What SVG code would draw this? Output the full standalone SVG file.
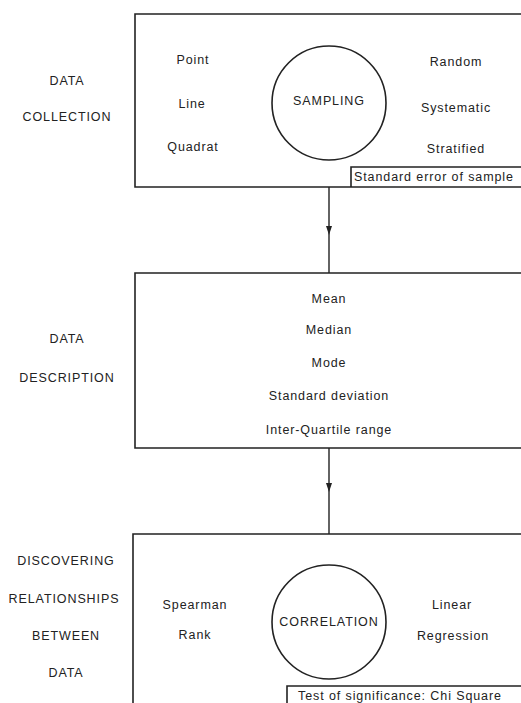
<svg xmlns="http://www.w3.org/2000/svg" width="521" height="703" viewBox="0 0 521 703">
<defs>
<style>
text{font-family:"Liberation Sans",Arial,sans-serif;font-size:12.5px;letter-spacing:0.9px;fill:#222;text-anchor:middle}
.box{fill:none;stroke:#222;stroke-width:1.6}
.ln{stroke:#222;stroke-width:1.4;fill:none}
.st{text-anchor:start}
</style>
<marker id="ah" viewBox="0 0 10 10" refX="10" refY="5" markerWidth="9" markerHeight="6" markerUnits="userSpaceOnUse" orient="auto" preserveAspectRatio="none">
<path d="M0,0 L10,5 L0,10 Z" fill="#222"/>
</marker>
</defs>
<rect width="521" height="703" fill="#fff"/>
<g id="connectors">
<path class="ln" d="M329,187 V235" marker-end="url(#ah)"/>
<path class="ln" d="M329,235 V273"/>
<path class="ln" d="M329,448 V492" marker-end="url(#ah)"/>
<path class="ln" d="M329,492 V534"/>
</g>
<g id="label-collection">
<text x="67" y="85">DATA</text>
<text x="67" y="121">COLLECTION</text>
</g>
<g id="box-collection">
<path class="box" d="M530,14 H135 V187 H530"/>
<text x="193" y="64">Point</text>
<text x="192" y="108">Line</text>
<text x="193" y="151">Quadrat</text>
<text x="456" y="66">Random</text>
<text x="456" y="112">Systematic</text>
<text x="456" y="153">Stratified</text>
</g>
<g id="node-sampling">
<circle class="box" cx="329" cy="103" r="57"/>
<text x="329" y="105">SAMPLING</text>
</g>
<g id="box-std-error">
<path class="box" d="M530,167 H351 V187"/>
<text class="st" x="354" y="181">Standard error of sample</text>
</g>
<g id="label-description">
<text x="67" y="343">DATA</text>
<text x="67" y="382">DESCRIPTION</text>
</g>
<g id="box-description">
<path class="box" d="M530,273 H135 V448 H530"/>
<text x="329" y="303">Mean</text>
<text x="329" y="334">Median</text>
<text x="329" y="367">Mode</text>
<text x="329" y="400">Standard deviation</text>
<text x="329" y="434">Inter-Quartile range</text>
</g>
<g id="label-relationships">
<text x="66" y="565">DISCOVERING</text>
<text x="64" y="603">RELATIONSHIPS</text>
<text x="66" y="640">BETWEEN</text>
<text x="66" y="677">DATA</text>
</g>
<g id="box-relationships">
<path class="box" d="M530,534 H133 V710"/>
<text x="195" y="609">Spearman</text>
<text x="195" y="639">Rank</text>
<text x="452" y="609">Linear</text>
<text x="453" y="640">Regression</text>
</g>
<g id="node-correlation">
<circle class="box" cx="329" cy="622" r="57"/>
<text x="329" y="626">CORRELATION</text>
</g>
<g id="box-significance">
<path class="box" d="M530,686 H287 V710"/>
<text class="st" x="298" y="700">Test of significance: Chi Square</text>
</g>
</svg>
